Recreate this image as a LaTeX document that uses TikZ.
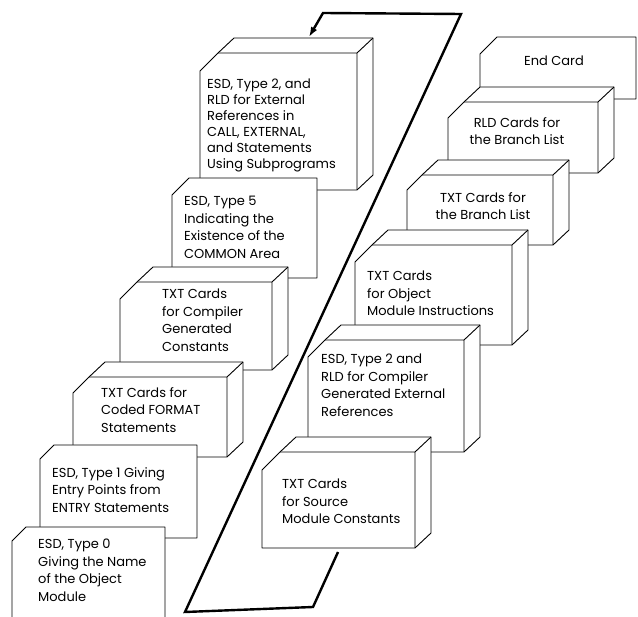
\documentclass[tikz,border=0pt]{standalone}
\usepackage{fontspec}
\setmainfont{Poppins}
\usetikzlibrary{arrows.meta}

\tikzset{
  deck/.style={draw=black, line width=0.9pt, fill=white, line join=round},
  cardtext/.style={anchor=north west, inner sep=0pt, align=left, font=\fontsize{13}{17.5}\selectfont},
  loopline/.style={line width=2.4pt, line join=miter},
}

% x0, y0, x1, y1, corner cut
\newcommand{\deckblock}[5]{%
  \draw[deck] (#1,#4) -- (#1,#2+#5) -- (#1+#5,#2) -- (#1+#5+16,#2-15) -- (#3+16,#2-15) -- (#3+16,#4-15) -- (#3,#4) -- cycle;
  \draw[deck, fill=none] (#1+#5,#2) -- (#3,#2) -- (#3+16,#2-15) (#3,#2) -- (#3,#4);
}
\newcommand{\flatcard}[5]{%
  \draw[deck] (#1,#4) -- (#1,#2+#5) -- (#1+#5,#2) -- (#3,#2) -- (#3,#4) -- cycle;
}

\begin{document}
\begin{tikzpicture}[x=1pt,y=-1pt]
  \clip (0,0) rectangle (638,617);

  % the loop behind the decks
  \coordinate (loopstart) at (338,552);
  \coordinate (loopbr) at (313,607);
  \coordinate (loopbl) at (185,612);
  \coordinate (looptr) at (461,14);
  \coordinate (looptl) at (323,13);
  \coordinate (loopend) at (309,37);
  \draw[loopline, -{Latex[length=10pt,width=7pt]}] (loopstart) -- (loopbr) -- (loopbl) -- (looptr) -- (looptl) -- (loopend);

  % left stack, back to front
  \deckblock{200}{53}{357}{190}{18}
  \flatcard{172}{178}{317}{278}{17}
  \deckblock{120}{282}{272}{370}{17}
  \deckblock{73}{377}{227}{457}{16}
  \flatcard{40}{445}{197}{538}{14}
  \flatcard{12}{527}{165}{640}{14}

  % right stack, back to front
  \flatcard{480}{37}{636}{99}{17}
  \deckblock{448}{102}{598}{173}{16}
  \deckblock{407}{175}{553}{245}{15}
  \deckblock{355}{245}{512}{345}{17}
  \deckblock{308}{340}{464}{452}{17}
  \deckblock{262}{452}{415}{548}{18}

  \draw (207,79) node[cardtext, font=\fontsize{13}{16}\selectfont] (esdtwo) {ESD, Type 2, and\\RLD for External\\References in\\CALL, EXTERNAL,\\and Statements\\Using Subprograms};
  \draw (184,196) node[cardtext] (esdfive) {ESD, Type 5\\Indicating the\\Existence of the\\COMMON Area};
  \draw (162,289) node[cardtext] (txtconst) {TXT Cards\\for Compiler\\Generated\\Constants};
  \draw (101,387) node[cardtext] (txtformat) {TXT Cards for\\Coded FORMAT\\Statements};
  \draw (52,467) node[cardtext] (esdone) {ESD, Type 1 Giving\\Entry Points from\\ENTRY Statements};
  \draw (38,539) node[cardtext] (esdzero) {ESD, Type 0\\Giving the Name\\of the Object\\Module};

  \draw (554,61) node[cardtext, anchor=center] (endcard) {End Card};
  \draw (517,117) node[cardtext, anchor=north, align=center] (rldbranch) {RLD Cards for\\the Branch List};
  \draw (483,192) node[cardtext, anchor=north, align=center] (txtbranch) {TXT Cards for\\the Branch List};
  \draw (367,271) node[cardtext] (txtobject) {TXT Cards\\for Object\\Module Instructions};
  \draw (321,354) node[cardtext] (esdcompiler) {ESD, Type 2 and\\RLD for Compiler\\Generated External\\References};
  \draw (282,479) node[cardtext] (txtsource) {TXT Cards\\for Source\\Module Constants};
\end{tikzpicture}
\end{document}
